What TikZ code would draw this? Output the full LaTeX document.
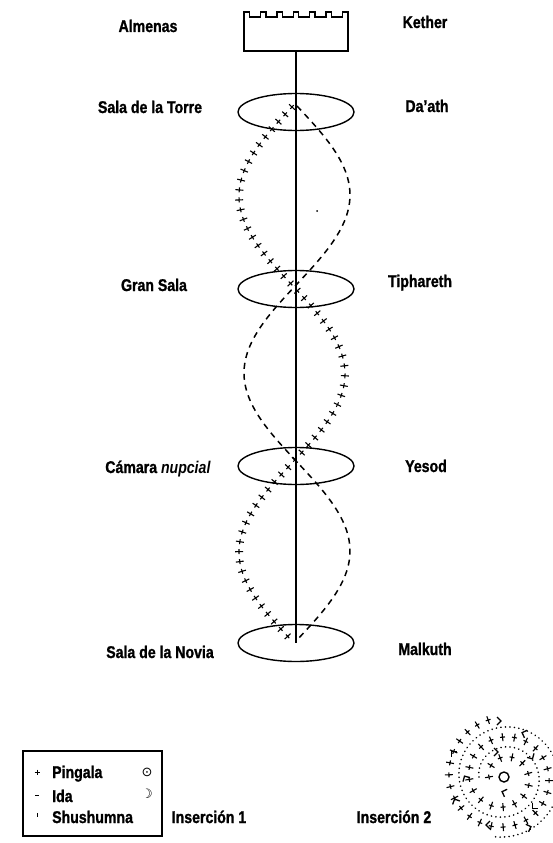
\documentclass[tikz,border=0pt]{standalone}
\usepackage{fontspec}
\setmainfont{Liberation Sans}[FakeStretch=0.83, BoldFeatures={FakeBold=1.2}]
\newfontfamily\symfont{DejaVu Sans}
\usetikzlibrary{shapes.geometric, decorations.markings}

\tikzset{
  lab/.style={font=\fontsize{17}{17}\selectfont\bfseries, inner sep=0pt, anchor=base},
  sefira/.style={draw, ellipse, line width=1.4pt, minimum width=116pt, minimum height=37pt, inner sep=0pt},
  flecha/.pic={\draw[line width=1.3pt] (-3pt,-4pt) -- (1pt,0) -- (-3pt,4pt);},
  pingala/.style={decorate, decoration={markings, mark=between positions 0 and 1 step #1 with {\draw[line width=1.1pt] (-2.5pt,0)--(2.5pt,0) (0,-4pt)--(0,4pt);}}},
  pingala/.default=10pt,
  ida/.style={line width=1.5pt, dash pattern=on 6pt off 5pt},
  punto/.style={decorate, decoration={markings, mark=between positions 0 and 1 step 4.5pt with {\fill (0,0) circle (0.9pt);}}},
}

\begin{document}
\begin{tikzpicture}[x=1pt, y=-1pt]
    \useasboundingbox (0,0) rectangle (552,843);

    % torre y sefiroth
    \node[minimum width=104pt, minimum height=39pt, inner sep=0pt, outer sep=0pt] (torre) at (296,31.5) {};
    \draw[line width=1.4pt] (torre.south west) -- (torre.north west)
        \foreach \i in {1,...,6} {-- ++(5.4,0) -- ++(0,5) -- ++(11,0) -- ++(0,-5)}
        -- (torre.north east) -- (torre.south east) -- cycle;
    \node[sefira] (s1) at (296,112) {};
    \node[sefira] (s2) at (296,289) {};
    \node[sefira] (s3) at (296,466) {};
    \node[sefira] (s4) at (296,643) {};
    \draw[line width=1.3pt] (torre.south) -- (s4.center);

    % Pingala e Ida
    \path[pingala] plot[domain=0:3, samples=150] ({292-53*sin(180*\x)}, {107+178*\x});
    \draw[ida] plot[domain=0:3, samples=150] ({297+53*sin(180*\x)}, {106+178*\x});
    \fill (317,211) circle (1pt);

    \node[lab] (almenas) at (148,32) {Almenas};
    \node[lab] (kether) at (425,28) {Kether};
    \node[lab] (salatorre) at (150,113) {Sala de la Torre};
    \node[lab] (daath) at (427,112) {Da'ath};
    \node[lab] (gransala) at (154,291) {Gran Sala};
    \node[lab] (tiphareth) at (420,287) {Tiphareth};
    \node[lab] (camara) at (158,473) {Cámara \textit{nupcial}};
    \node[lab] (yesod) at (426,472) {Yesod};
    \node[lab] (novia) at (160,658) {Sala de la Novia};
    \node[lab] (malkuth) at (425,655) {Malkuth};

    % Insercion 1
    \node[draw, line width=1.3pt, minimum width=139pt, minimum height=85pt, inner sep=0pt] (leyenda) at (92.5,793.5) {};
    \draw[line width=0.9pt] (34.5,772)--(39.5,772) (37,769.5)--(37,774.5);
    \draw[line width=0.9pt] (35,795)--(39,795);
    \draw[line width=0.9pt] (37,813)--(37,817);
    \node[lab, anchor=base west] (ping) at (52,778) {Pingala};
    \node[lab, anchor=base west] (ida) at (52,802) {Ida};
    \node[lab, anchor=base west] (shu) at (52,823) {Shushumna};
    \node[font=\symfont\fontsize{13}{13}\selectfont, inner sep=0pt] (sol) at (147,772) {⊙};
    \node[font=\symfont\fontsize{13}{13}\selectfont, inner sep=0pt] (luna) at (147,794) {☽};
    \node[lab] (ins1) at (209,823) {Inserción 1};

    % Insercion 2
    \node[lab] (ins2) at (394,823) {Inserción 2};
    \node[circle, draw, line width=1.4pt, minimum size=10pt, inner sep=0pt] (centro) at (504,777) {};
    \path[punto] plot[domain=180:820, samples=200] ({504+(15+\x/18)*cos(\x)}, {777+(15+\x/18)*sin(\x)});
    \path[pingala=12pt] plot[domain=180:980, samples=200] ({504+(5+\x/18)*cos(\x)}, {777+(5+\x/18)*sin(\x)});
    \foreach \px/\py/\ang in {452/752/135, 455/800/115, 487/825/180, 500/721/0, 523/733/160,
                              533/808/225, 497/752/0, 532/758/300, 465/777/120, 503/792/160, 530/827/20}
        \pic[rotate=\ang] at (\px,\py) {flecha};
\end{tikzpicture}
\end{document}
